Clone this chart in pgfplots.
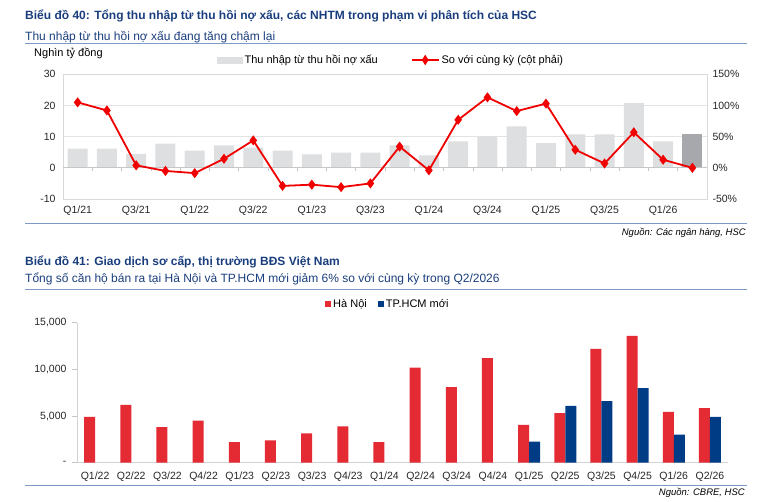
\documentclass[border=0pt]{standalone}
\usepackage{fontspec}
\setmainfont{Liberation Sans}
\usepackage{pgfplots}
\pgfplotsset{compat=1.18}
\usepackage{pgfplotstable}
\definecolor{titleblue}{HTML}{1A3E7D}
\definecolor{ruleblue}{HTML}{7D9AC7}
\definecolor{barGray}{HTML}{DEDFE1}
\definecolor{barDark}{HTML}{A6A8AB}
\definecolor{lineRed}{HTML}{F00000}
\definecolor{hnRed}{HTML}{E42A33}
\definecolor{hcmBlue}{HTML}{003C85}

\pgfplotstableread{
x val
0 6.2
1 6.2
2 4.5
3 7.8
4 5.5
5 7.2
6 6.5
7 5.5
8 4.3
9 4.9
10 4.9
11 7.2
12 4.0
13 8.5
14 10.1
15 13.3
16 7.9
17 10.7
18 10.7
19 20.8
20 8.5
}\nplinc

\pgfplotstableread{
x yoy
0 105
1 92
2 4
3 -5
4 -8.5
5 14.5
6 44
7 -29
8 -27
9 -31
10 -25
11 34
12 -4
13 77
14 113
15 91
16 103
17 29
18 7
19 57
20 13
21 0
}\yoy

\pgfplotstableread{
x hn
0 4900
1 6200
2 3800
3 4500
4 2200
5 2400
6 3150
7 3900
8 2200
9 10200
10 8100
11 11200
12 4050
13 5300
14 12200
15 13600
16 5450
17 5850
}\hn

\pgfplotstableread{
x hcm
12 2250
13 6100
14 6600
15 8000
16 3000
17 4900
}\hcm

\begin{document}
\begin{tikzpicture}
\useasboundingbox (0,0) rectangle (758pt,-501pt);

% ---------- Chart 40 ----------
\node[anchor=base west, inner sep=0pt, font=\fontsize{12}{14}\selectfont\bfseries, text=titleblue] at (25pt,-19.5pt) {Biểu đồ 40: Tổng thu nhập từ thu hồi nợ xấu, các NHTM trong phạm vi phân tích của HSC};
\node[anchor=base west, inner sep=0pt, font=\fontsize{12}{14}\selectfont, text=titleblue] at (25pt,-40pt) {Thu nhập từ thu hồi nợ xấu đang tăng chậm lại};
\draw[ruleblue, line width=1pt] (25pt,-43.5pt) -- (747pt,-43.5pt);
\node[anchor=base west, inner sep=0pt, font=\fontsize{11}{13}\selectfont] at (34pt,-56.5pt) {Nghìn tỷ đồng};

\begin{axis}[
  at={(63pt,-199pt)}, anchor=south west,
  scale only axis, width=644pt, height=124.7pt,
  xmin=-0.5, xmax=21.5, ymin=-10, ymax=30,
  xtick={0,2,...,20},
  xticklabels={Q1/21,Q3/21,Q1/22,Q3/22,Q1/23,Q3/23,Q1/24,Q3/24,Q1/25,Q3/25,Q1/26},
  ytick={-10,0,10,20,30}, yticklabels={-10,0,10,20,30},
  major tick length=0pt,
  ymajorgrids, grid style={gray!22, line width=0.7pt},
  axis line style={gray!30, line width=0.7pt},
  tick label style={font=\fontsize{10.5}{12}\selectfont, text=black!85},
  xticklabel style={yshift=-3pt},
  yticklabel style={xshift=-4pt},
  clip=false,
]
\addplot[ybar, bar width=20pt, bar shift=0pt, fill=barGray, draw=none] table[x=x,y=val]{\nplinc};
\addplot[ybar, bar width=20pt, bar shift=0pt, fill=barDark, draw=none] coordinates {(21,10.7)};
\draw[gray!45, line width=0.7pt] (axis cs:-0.5,0) -- (axis cs:21.5,0);
\pgfplotsinvokeforeach{0.5,1.5,2.5,3.5,4.5,5.5,6.5,7.5,8.5,9.5,10.5,11.5,12.5,13.5,14.5,15.5,16.5,17.5,18.5,19.5,20.5}{
  \draw[gray!45, line width=0.6pt] (axis cs:#1,0) -- ++(0pt,-3pt);
}
\end{axis}

\begin{axis}[
  at={(63pt,-199pt)}, anchor=south west,
  scale only axis, width=644pt, height=124.7pt,
  xmin=-0.5, xmax=21.5, ymin=-50, ymax=150,
  axis x line=none, axis y line*=right,
  ytick={-50,0,50,100,150}, yticklabels={-50\%,0\%,50\%,100\%,150\%},
  major tick length=0pt,
  axis line style={gray!30, line width=0.7pt, -},
  tick label style={font=\fontsize{10.5}{12}\selectfont, text=black!85},
  yticklabel style={xshift=2pt},
  clip=false,
  legend columns=2,
  legend style={draw=none, fill=none, inner sep=0pt,
    at={(axis description cs:0.2391,1)}, anchor=west, yshift=14.3pt,
    font=\fontsize{11}{13}\selectfont,
    /tikz/every even column/.append style={column sep=31pt}},
  legend cell align=left,
]
\addlegendimage{legend image code/.code={\fill[barGray] (0pt,-3pt) rectangle (25pt,3pt);}}
\addlegendentry{Thu nhập từ thu hồi nợ xấu}
\addplot[lineRed, line width=1.8pt, mark=diamond*, mark size=3.6pt,
  legend image code/.code={\draw[lineRed, line width=1.8pt] (0pt,0pt) -- (27pt,0pt);
     \fill[lineRed] (13.5pt,3.6pt) -- (15.8pt,0pt) -- (13.5pt,-3.6pt) -- (11.2pt,0pt) -- cycle;}]
  table[x=x,y=yoy]{\yoy};
\addlegendentry{So với cùng kỳ (cột phải)}
\end{axis}

\draw[ruleblue, line width=1pt] (25pt,-223.5pt) -- (747pt,-223.5pt);
\node[anchor=base east, inner sep=0pt, font=\fontsize{9.5}{11}\selectfont\itshape] at (746pt,-235pt) {Nguồn: Các ngân hàng, HSC};

% ---------- Chart 41 ----------
\node[anchor=base west, inner sep=0pt, font=\fontsize{12}{14}\selectfont\bfseries, text=titleblue] at (25pt,-265pt) {Biểu đồ 41: Giao dịch sơ cấp, thị trường BĐS Việt Nam};
\node[anchor=base west, inner sep=0pt, font=\fontsize{12}{14}\selectfont, text=titleblue] at (25pt,-282.6pt) {Tổng số căn hộ bán ra tại Hà Nội và TP.HCM mới giảm 6\% so với cùng kỳ trong Q2/2026};
\draw[ruleblue, line width=1pt] (25pt,-289pt) -- (747pt,-289pt);

\begin{axis}[
  at={(77pt,-462.7pt)}, anchor=south west,
  scale only axis, width=651pt, height=140pt,
  xmin=-0.5, xmax=17.5, ymin=0, ymax=15000,
  ybar=0pt, bar width=11pt,
  scaled y ticks=false,
  xtick={0,...,17},
  xticklabels={Q1/22,Q2/22,Q3/22,Q4/22,Q1/23,Q2/23,Q3/23,Q4/23,Q1/24,Q2/24,Q3/24,Q4/24,Q1/25,Q2/25,Q3/25,Q4/25,Q1/26,Q2/26},
  ytick={0,5000,10000,15000}, yticklabels={-,{5,000},{10,000},{15,000}},
  axis x line*=bottom, axis y line*=left,
  axis line style={gray!35, line width=0.7pt, -},
  x tick style={draw=none},
  y tick style={gray!45, line width=0.6pt},
  ytick align=outside, major tick length=5pt,
  extra x ticks={-0.5,0.5,1.5,2.5,3.5,4.5,5.5,6.5,7.5,8.5,9.5,10.5,11.5,12.5,13.5,14.5,15.5,16.5,17.5},
  extra x tick labels={},
  extra x tick style={major tick length=4pt, tick align=outside, x tick style={gray!45, line width=0.6pt}},
  tick label style={font=\fontsize{10.5}{12}\selectfont, text=black!85},
  xticklabel style={yshift=-1pt},
  yticklabel style={xshift=-2pt},
  legend columns=2,
  legend style={draw=none, fill=none, inner sep=0pt,
    at={(axis description cs:0.381,1)}, anchor=west, yshift=18.7pt,
    font=\fontsize{11}{13}\selectfont,
    /tikz/every even column/.append style={column sep=9pt}},
  legend cell align=left,
  legend image code/.code={\fill[#1] (0pt,-3pt) rectangle (6pt,3pt);},
]
\addplot[fill=hnRed, draw=none] table[x=x,y=hn]{\hn};
\addlegendentry{Hà Nội}
\addplot[fill=hcmBlue, draw=none] table[x=x,y=hcm]{\hcm};
\addlegendentry{TP.HCM mới}
\end{axis}

\draw[ruleblue, line width=1pt] (25pt,-485pt) -- (747pt,-485pt);
\node[anchor=base east, inner sep=0pt, font=\fontsize{9.5}{11}\selectfont\itshape] at (745pt,-495.5pt) {Nguồn: CBRE, HSC};
\end{tikzpicture}
\end{document}
